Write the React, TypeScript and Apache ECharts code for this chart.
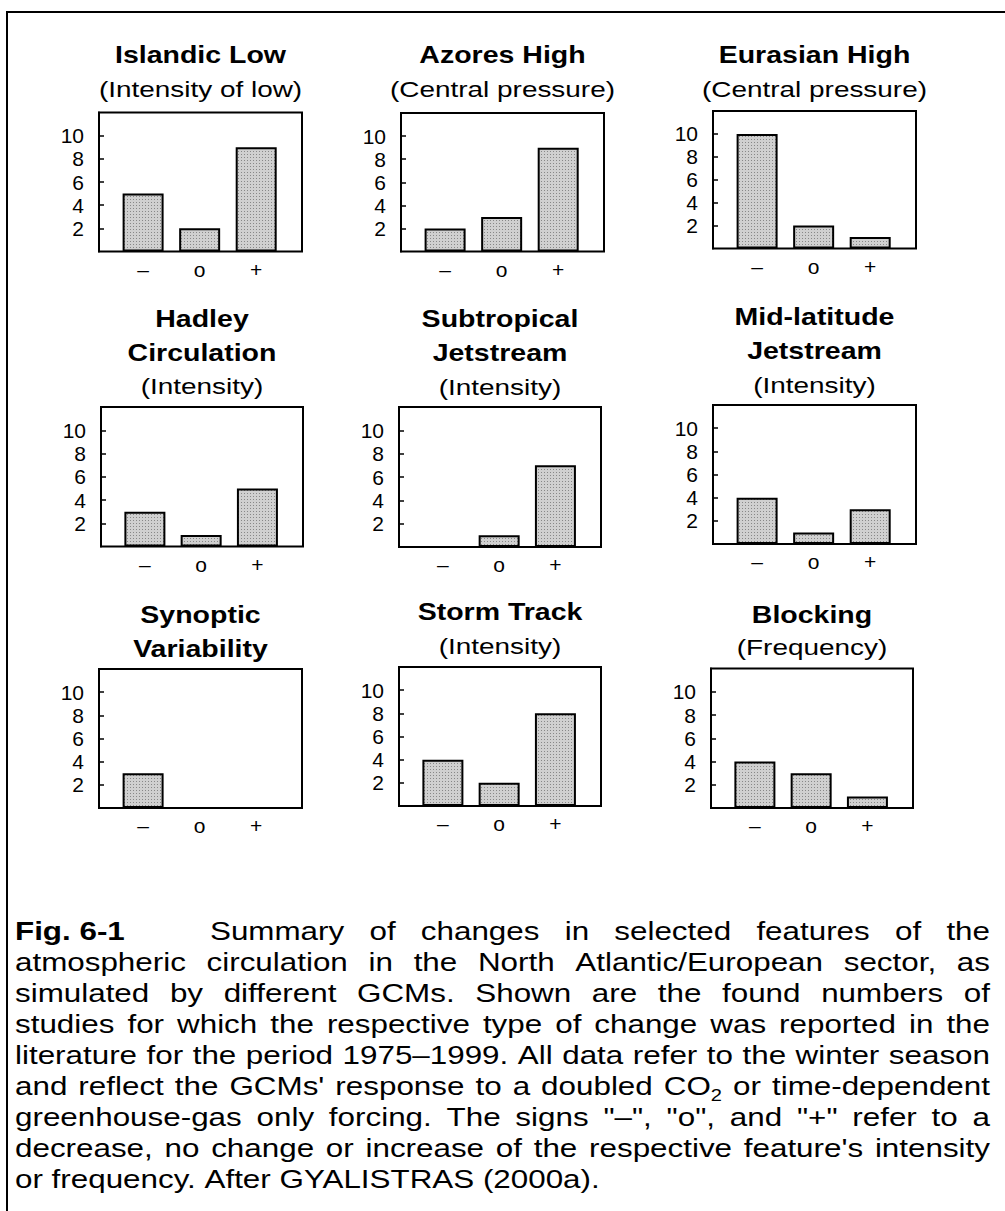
import React, { useEffect, useRef } from 'react';
import * as echarts from 'echarts';

// ---------------- data ----------------
const CATEGORIES = ['–', 'o', '+'];
const Y_TICKS = [2, 4, 6, 8, 10];

const ISLANDIC_LOW = [5, 2, 9];
const AZORES_HIGH = [2, 3, 9];
const EURASIAN_HIGH = [10, 2, 1];
const HADLEY_CIRCULATION = [3, 1, 5];
const SUBTROPICAL_JETSTREAM = [0, 1, 7];
const MIDLATITUDE_JETSTREAM = [4, 1, 3];
const SYNOPTIC_VARIABILITY = [3, 0, 0];
const STORM_TRACK = [4, 2, 8];
const BLOCKING = [4, 3, 1];

const PANEL_VALUES = [
  ISLANDIC_LOW, AZORES_HIGH, EURASIAN_HIGH,
  HADLEY_CIRCULATION, SUBTROPICAL_JETSTREAM, MIDLATITUDE_JETSTREAM,
  SYNOPTIC_VARIABILITY, STORM_TRACK, BLOCKING,
];

const PANEL_TITLES = [
  ['Islandic Low'], ['Azores High'], ['Eurasian High'],
  ['Hadley', 'Circulation'], ['Subtropical', 'Jetstream'], ['Mid-latitude', 'Jetstream'],
  ['Synoptic', 'Variability'], ['Storm Track'], ['Blocking'],
];

const PANEL_SUBTITLES = [
  '(Intensity of low)', '(Central pressure)', '(Central pressure)',
  '(Intensity)', '(Intensity)', '(Intensity)',
  null, '(Intensity)', '(Frequency)',
];

const CAPTION_LEAD = 'Fig. 6-1';
const CAPTION_LINES = [
  'Summary of changes in selected features of the',
  'atmospheric circulation in the North Atlantic/European sector, as',
  'simulated by different GCMs. Shown are the found numbers of',
  'studies for which the respective type of change was reported in the',
  'literature for the period 1975–1999. All data refer to the winter season',
  "and reflect the GCMs' response to a doubled CO₂ or time-dependent",
  'greenhouse-gas only forcing. The signs "–", "o", and "+" refer to a',
  "decrease, no change or increase of the respective feature's intensity",
  'or frequency. After GYALISTRAS (2000a).',
];

// ---------------- layout ----------------
const FONT = '"Liberation Sans", Arial, sans-serif';
const BOXES = [
  { l: 99, t: 112.5, r: 302, b: 251.5, tb: [63], sb: 96.5 },
  { l: 401, t: 113, r: 604, b: 251.5, tb: [63], sb: 96.5 },
  { l: 713, t: 111, r: 916, b: 248.5, tb: [63], sb: 96.5 },
  { l: 101, t: 407, r: 303, b: 546.5, tb: [327, 360.5], sb: 394 },
  { l: 399, t: 407, r: 601, b: 547, tb: [326.5, 360.5], sb: 394.5 },
  { l: 713, t: 405, r: 916, b: 544, tb: [325, 359], sb: 392.5 },
  { l: 99, t: 669, r: 302, b: 808, tb: [623, 657], sb: 0 },
  { l: 399, t: 667, r: 601, b: 806, tb: [620], sb: 653.5 },
  { l: 711, t: 668.5, r: 913, b: 808, tb: [623], sb: 655 },
];
const X_MIN = 0.22;
const X_MAX = 3.81;

const TITLE_SIZE = 23;
const TITLE_SX = 1.24;
const SUB_SIZE = 22;
const SUB_SX = 1.27;

const CAP_SIZE = 25;
const CAP_SX = 1.255;
const CAP_LEFT = 15;
const CAP_RIGHT = 990;
const CAP_FIRST_INDENT = 210;
const CAP_BASE0 = 940;
const CAP_STEP = 31;

function makePattern() {
  const c = document.createElement('canvas');
  c.width = 3;
  c.height = 3;
  const ctx = c.getContext('2d')!;
  ctx.fillStyle = '#d0d0d0';
  ctx.fillRect(0, 0, 3, 3);
  ctx.fillStyle = '#888888';
  ctx.fillRect(1, 1, 1, 1);
  return c;
}

function textEl(text: string, x: number, baseline: number, size: number, weight: string, sx: number, align: string) {
  const y = baseline - size * 0.34;
  return {
    type: 'text',
    x,
    y,
    scaleX: sx,
    silent: true,
    style: {
      text,
      fontSize: size,
      fontWeight: weight,
      fontFamily: FONT,
      fill: '#000',
      align,
      textAlign: align,
      verticalAlign: 'middle',
      textVerticalAlign: 'middle',
    },
  };
}

function buildCaption(): any[] {
  const canvas = document.createElement('canvas');
  const ctx = canvas.getContext('2d')!;
  const measure = (t: string, size: number, weight = 'normal') => {
    ctx.font = `${weight} ${size}px ${FONT}`;
    return ctx.measureText(t).width * CAP_SX;
  };
  const subSize = 16;
  const wordWidth = (w: string) => {
    if (w.includes('₂')) {
      const [a, b] = w.split('₂');
      return measure(a, CAP_SIZE) + measure('2', subSize) + (b ? measure(b, CAP_SIZE) : 0);
    }
    return measure(w, CAP_SIZE);
  };
  const els: any[] = [];
  els.push(textEl(CAPTION_LEAD, CAP_LEFT, CAP_BASE0, CAP_SIZE, 'bold', CAP_SX, 'left'));
  CAPTION_LINES.forEach((line, i) => {
    const base = CAP_BASE0 + i * CAP_STEP;
    const left = i === 0 ? CAP_FIRST_INDENT : CAP_LEFT;
    const words = line.split(' ');
    const widths = words.map(wordWidth);
    const total = widths.reduce((s, v) => s + v, 0);
    const last = i === CAPTION_LINES.length - 1;
    const natural = measure(' ', CAP_SIZE);
    let gap = last || words.length < 2 ? natural : (CAP_RIGHT - left - total) / (words.length - 1);
    if (gap < natural * 0.6) gap = natural * 0.6;
    let x = left;
    words.forEach((w, k) => {
      if (w.includes('₂')) {
        const [a, b] = w.split('₂');
        els.push(textEl(a, x, base, CAP_SIZE, 'normal', CAP_SX, 'left'));
        const xa = x + measure(a, CAP_SIZE);
        els.push(textEl('2', xa, base + 6, subSize, 'normal', CAP_SX, 'left'));
        if (b) els.push(textEl(b, xa + measure('2', subSize), base, CAP_SIZE, 'normal', CAP_SX, 'left'));
      } else {
        els.push(textEl(w, x, base, CAP_SIZE, 'normal', CAP_SX, 'left'));
      }
      x += widths[k] + gap;
    });
  });
  return els;
}

export default function App() {
  const ref = useRef<HTMLDivElement>(null);
  useEffect(() => {
    if (!ref.current) return;
    const chart = echarts.init(ref.current, null, { renderer: 'svg' });
    const pattern = makePattern();

    const grids: any[] = [];
    const xAxes: any[] = [];
    const yAxes: any[] = [];
    const series: any[] = [];
    const graphics: any[] = [];

    BOXES.forEach((bx, i) => {
      grids.push({
        left: bx.l,
        top: bx.t,
        width: bx.r - bx.l,
        height: bx.b - bx.t,
        show: true,
        borderColor: '#000',
        borderWidth: 2,
        backgroundColor: 'transparent',
        containLabel: false,
        outerBoundsMode: 'none',
      });
      xAxes.push({
        gridIndex: i,
        type: 'value',
        min: X_MIN,
        max: X_MAX,
        axisLine: { show: false },
        axisTick: { show: false },
        splitLine: { show: false },
        axisLabel: {
          customValues: [1, 2, 3],
          formatter: (v: number) => CATEGORIES[Math.round(v) - 1] ?? '',
          margin: 7,
          fontSize: 21,
          fontFamily: FONT,
          color: '#000',
        },
      });
      yAxes.push({
        gridIndex: i,
        type: 'value',
        min: 0,
        max: 12,
        interval: 2,
        axisLine: { show: true, lineStyle: { color: '#000', width: 2 } },
        axisTick: { show: true, inside: true, length: 5, customValues: Y_TICKS, lineStyle: { color: '#000', width: 1.5 } },
        axisLabel: {
          customValues: Y_TICKS,
          formatter: (v: number) => (v > 0 && v < 12 ? String(v) : ''),
          margin: 15,
          fontSize: 21,
          fontFamily: FONT,
          color: '#000',
        },
        splitLine: { show: false },
      });
      series.push({
        type: 'bar',
        xAxisIndex: i,
        yAxisIndex: i,
        barWidth: 41,
        silent: true,
        data: PANEL_VALUES[i].map((v, k) => [k + 1, v]),
        itemStyle: {
          color: { image: pattern, repeat: 'repeat' },
          borderColor: '#000',
          borderWidth: 2,
        },
      });
      const cx = (bx.l + bx.r) / 2;
      PANEL_TITLES[i].forEach((t, k) => {
        graphics.push(textEl(t, cx, bx.tb[k], TITLE_SIZE, 'bold', TITLE_SX, 'center'));
      });
      const sub = PANEL_SUBTITLES[i];
      if (sub) graphics.push(textEl(sub, cx, bx.sb, SUB_SIZE, 'normal', SUB_SX, 'center'));
    });

    graphics.push({
      type: 'rect',
      silent: true,
      shape: { x: 7, y: 12, width: 1030, height: 1230 },
      style: { fill: 'none', stroke: '#000', lineWidth: 2 },
    });
    graphics.push(...buildCaption());

    chart.setOption({
      animation: false,
      backgroundColor: '#fff',
      grid: grids,
      xAxis: xAxes,
      yAxis: yAxes,
      series,
      graphic: { elements: graphics },
    });
    return () => chart.dispose();
  }, []);
  return <div ref={ref} style={{ position: 'fixed', left: 0, top: 0, width: 1005, height: 1211 }} />;
}
